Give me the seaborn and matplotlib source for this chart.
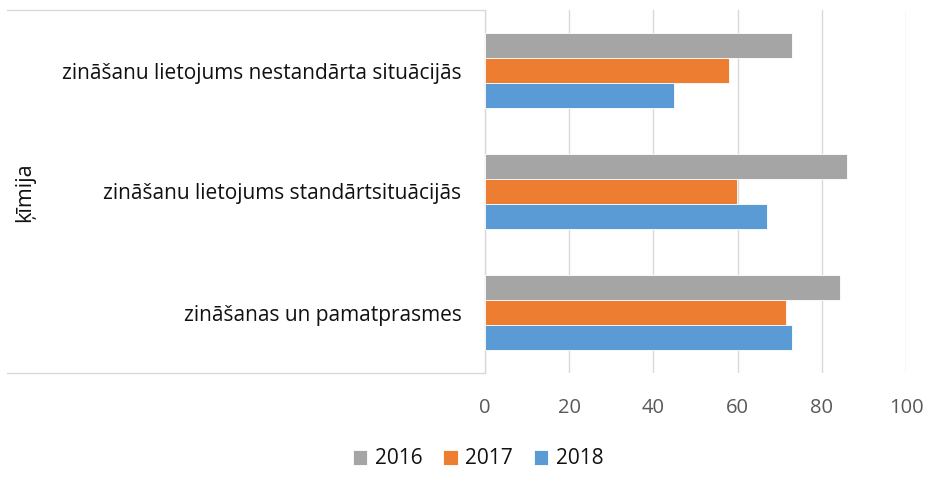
import matplotlib
matplotlib.use('Agg')
import matplotlib.pyplot as plt
import seaborn as sns
import pandas as pd
from matplotlib.lines import Line2D

# ---- data ----
categories = [
    "zināšanu lietojums nestandārta situācijās",
    "zināšanu lietojums standārtsituācijās",
    "zināšanas un pamatprasmes",
]
years = ["2016", "2017", "2018"]
values_2016 = [72.9, 86.0, 84.4]
values_2017 = [57.9, 59.9, 71.4]
values_2018 = [44.8, 67.0, 72.9]
group_label = "ķīmija"
x_ticks = [0, 20, 40, 60, 80, 100]
colors = ["#A5A5A5", "#ED7D31", "#5B9BD5"]

sns.set_theme(style="white")
plt.rcParams['font.family'] = ['Open Sans', 'DejaVu Sans']

rows = []
for yr, vals in zip(years, [values_2016, values_2017, values_2018]):
    for c, v in zip(categories, vals):
        rows.append({"category": c, "year": yr, "value": v})
df = pd.DataFrame(rows)

W, H = 929, 488
fig = plt.figure(figsize=(W / 100, H / 100), dpi=100)
ax = fig.add_axes([485 / W, 1 - 373 / H, 421 / W, 363 / H])

sns.barplot(data=df, x="value", y="category", hue="year", order=categories,
            hue_order=years, palette=colors, saturation=1, orient="h", width=0.62,
            gap=0, edgecolor="white", linewidth=0.6, ax=ax, zorder=3)

ax.set_xlim(0, 100)
ax.set_xticks(x_ticks)
ax.set_xticklabels([str(t) for t in x_ticks])
ax.set_xlabel("")
ax.set_ylabel("")
ax.grid(axis="x", color="#D9D9D9", linewidth=1.0, zorder=0)
ax.grid(axis="y", visible=False)
ax.set_axisbelow(True)
for s in ["top", "right", "bottom"]:
    ax.spines[s].set_visible(False)
ax.spines["left"].set_color("#D9D9D9")
ax.spines["left"].set_linewidth(1.0)

ax.tick_params(axis="x", length=0, pad=18, labelsize=14.5, labelcolor="#595959")
ax.tick_params(axis="y", length=0, pad=17, labelsize=15, labelcolor="#111111")

handles, labels = ax.get_legend_handles_labels()
if ax.get_legend() is not None:
    ax.get_legend().remove()
fig.legend(handles, labels, loc="center", bbox_to_anchor=(478 / W, 1 - 459 / H),
           ncol=3, frameon=False, fontsize=15, handlelength=0.7, handleheight=0.7,
           handletextpad=0.35, columnspacing=1.0, labelcolor="#111111")

fig.text(25 / W, 1 - 192 / H, group_label, rotation=90, ha="center", va="center",
         fontsize=15.5, color="#111111")

for yy in [10, 373]:
    fig.add_artist(Line2D([7 / W, 485 / W], [1 - yy / H, 1 - yy / H],
                          transform=fig.transFigure, color="#D9D9D9", linewidth=1.0))

fig.savefig("out.png", dpi=100)
